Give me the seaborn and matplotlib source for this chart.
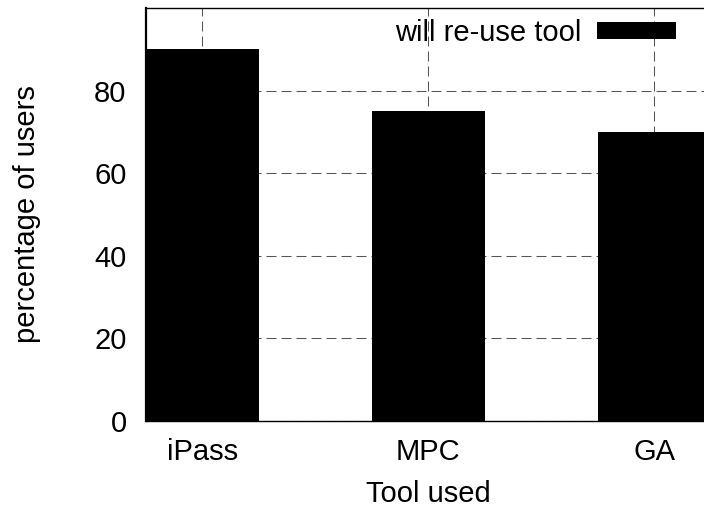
import matplotlib
matplotlib.use("Agg")
import matplotlib.pyplot as plt
import seaborn as sns
import pandas as pd

categories = ["iPass", "MPC", "GA"]
values = [90, 75, 70]
legend_label = "will re-use tool"
y_ticks = [0, 20, 40, 60, 80]

sns.set_theme(style="white")
plt.rcParams["font.family"] = ["Liberation Sans", "DejaVu Sans"]
plt.rcParams["text.color"] = "black"
plt.rcParams["axes.labelcolor"] = "black"

FS = 21

df = pd.DataFrame({"tool": categories, "pct": values})

fig = plt.figure(figsize=(7.04, 5.08), dpi=100)
ax = fig.add_axes([146 / 704, 1 - 421 / 508, (710.5 - 146) / 704, (421 - 8) / 508])

sns.barplot(data=df, x="tool", y="pct", color="black", width=0.5,
            saturation=1, label=legend_label, ax=ax, zorder=2)
for p in ax.patches:
    p.set_edgecolor("black")
    p.set_linewidth(0)

ax.set_xlim(-0.25, 2.25)
ax.set_ylim(0, 100)
ax.set_yticks(y_ticks)
ax.set_yticklabels([str(t) for t in y_ticks])

ax.grid(True, which="major", axis="both", color="#555555", linewidth=0.75,
        linestyle=(0, (9.6, 4.8)), zorder=0)
ax.set_axisbelow(True)

for s in ax.spines.values():
    s.set_visible(True)
    s.set_color("black")
    s.set_linewidth(1.0)
ax.spines["left"].set_linewidth(1.6)

ax.tick_params(axis="both", length=0, labelsize=FS, colors="black")
ax.tick_params(axis="x", pad=12)
ax.tick_params(axis="y", pad=14)

ax.set_xlabel("Tool used", fontsize=FS, color="black", labelpad=10)
ax.set_ylabel("percentage of users", fontsize=FS, color="black", labelpad=38)

leg = ax.legend(loc="upper right", bbox_to_anchor=(676 / 704, 1 - 19 / 508),
                bbox_transform=fig.transFigure, frameon=False,
                markerfirst=False, fontsize=FS, handlelength=2.7,
                handleheight=0.52, handletextpad=0.55, borderpad=0,
                borderaxespad=0)
for t in leg.get_texts():
    t.set_color("black")

fig.savefig("out.png", dpi=100)
